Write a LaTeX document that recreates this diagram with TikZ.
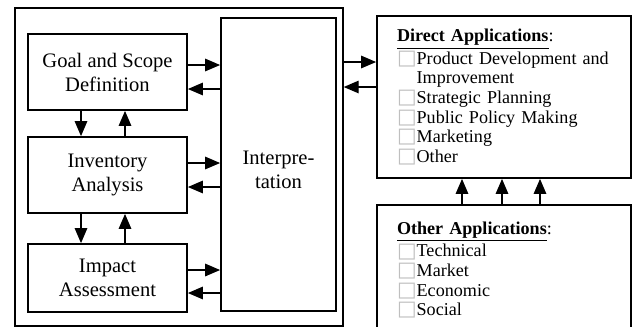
\documentclass[tikz,border=0pt]{standalone}
\usepackage{fontspec}
\usepackage{graphicx}
\setmainfont{Liberation Serif}
\newfontfamily\symfont{DejaVu Sans}
\usetikzlibrary{arrows.meta}
% small hollow box in front of each application
\newcommand{\appbox}{\scalebox{1.15}{\symfont\color{gray!50}\char"25A1}}
\newcommand{\appindent}{\leavevmode\hphantom{\appbox}}
\newcommand{\apphead}[1]{\underline{\textbf{#1}}}

\begin{document}
\begin{tikzpicture}[x=0.2mm,y=-0.2mm,
  stage/.style={draw,line width=1pt,minimum width=3.18cm,align=center,inner sep=0pt,
    font=\fontsize{11.7}{13.7}\selectfont},
  app/.style={draw,line width=1pt,minimum width=5.08cm,text width=4.28cm,align=left,
    inner xsep=0.4cm,inner ysep=0pt,font=\fontsize{10.3}{11.1}\selectfont},
  >={Triangle[length=3mm,width=2.5mm]}]
\path[use as bounding box,clip] (0,0) rectangle (633,326);

% framework
\node[draw,line width=0.8pt,minimum width=6.56cm,minimum height=6.36cm] (lca) at (179,167) {};
\node[stage,minimum height=1.52cm] (goal) at (107.5,72) {Goal and Scope\\Definition};
\node[stage,minimum height=1.52cm] (inv) at (107.5,175) {Inventory\\Analysis};
\node[stage,minimum height=1.36cm] (impact) at (107.5,278) {Impact\\Assessment};
\node[stage,minimum width=2.3cm,minimum height=5.86cm,text height=0.97cm] (interp) at (278.5,164.5) {Interpre-\\tation};

\path[draw,thick,->] (goal.east |- 0,65) -- (interp.west |- 0,65);
\path[draw,thick,->] (interp.west |- 0,89) -- (goal.east |- 0,89);
\path[draw,thick,->] (inv.east |- 0,163) -- (interp.west |- 0,163);
\path[draw,thick,->] (interp.west |- 0,187) -- (inv.east |- 0,187);
\path[draw,thick,->] (impact.east |- 0,270) -- (interp.west |- 0,270);
\path[draw,thick,->] (interp.west |- 0,293) -- (impact.east |- 0,293);

\path[draw,thick,->] (goal.south -| 81,0) -- (inv.north -| 81,0);
\path[draw,thick,->] (inv.north -| 125,0) -- (goal.south -| 125,0);
\path[draw,thick,->] (inv.south -| 81,0) -- (impact.north -| 81,0);
\path[draw,thick,->] (impact.north -| 125,0) -- (inv.south -| 125,0);

% applications
\node[app,minimum height=3.24cm] (direct) at (504,97) {\apphead{Direct Applications}:\\
  \appbox Product Development and\\
  \appindent Improvement\\
  \appbox Strategic Planning\\
  \appbox Public Policy Making\\
  \appbox Marketing\\
  \appbox Other};
\node[app,minimum height=2.6cm] (other) at (504,270) {\apphead{Other Applications}:\\
  \appbox Technical\\
  \appbox Market\\
  \appbox Economic\\
  \appbox Social};

\path[draw,thick,->] (lca.east |- 0,62) -- (direct.west |- 0,62);
\path[draw,thick,->] (direct.west |- 0,87) -- (lca.east |- 0,87);
\foreach \x in {462,502,540}
  \path[draw,thick,->] (other.north -| \x,0) -- (direct.south -| \x,0);
\end{tikzpicture}
\end{document}
